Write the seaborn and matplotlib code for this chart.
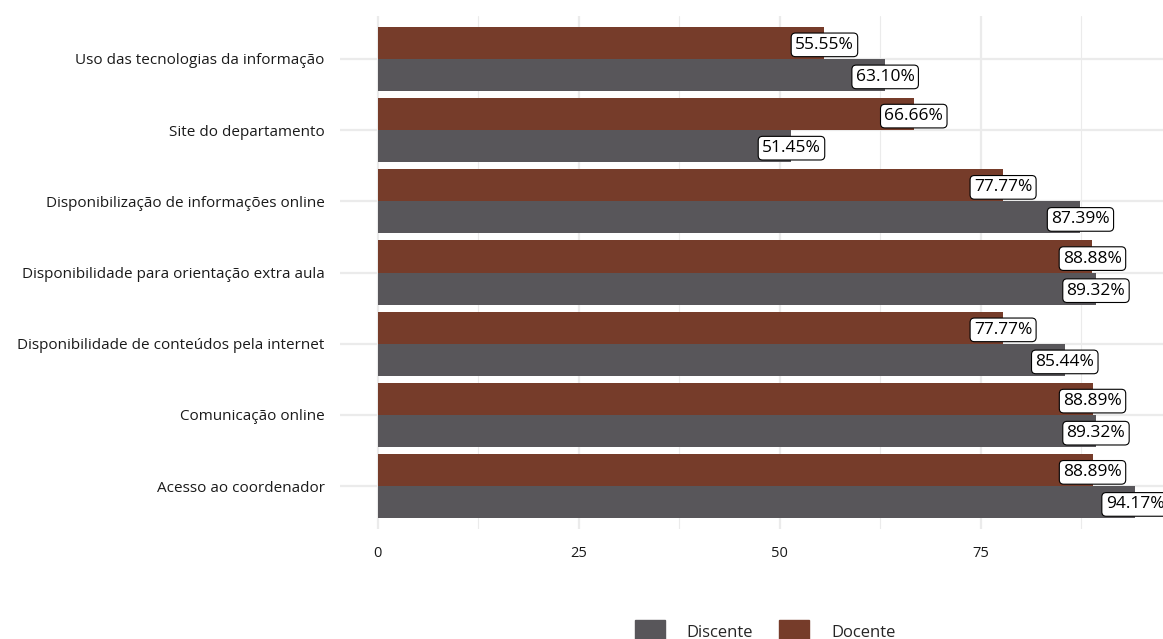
import matplotlib
matplotlib.use("Agg")
import matplotlib.pyplot as plt
import seaborn as sns
import pandas as pd
from matplotlib.patches import Patch

categorias = [
    "Uso das tecnologias da informação",
    "Site do departamento",
    "Disponibilização de informações online",
    "Disponibilidade para orientação extra aula",
    "Disponibilidade de conteúdos pela internet",
    "Comunicação online",
    "Acesso ao coordenador",
]
docente = [55.55, 66.66, 77.77, 88.88, 77.77, 88.89, 88.89]
discente = [63.10, 51.45, 87.39, 89.32, 85.44, 89.32, 94.17]
grupos = ["Docente", "Discente"]
cores = {"Docente": "#763C2A", "Discente": "#58565A"}

df = pd.DataFrame({
    "categoria": categorias * 2,
    "grupo": ["Docente"] * len(categorias) + ["Discente"] * len(categorias),
    "valor": docente + discente,
})

sns.set_theme(style="whitegrid")
plt.rcParams["font.family"] = ["Open Sans", "DejaVu Sans"]

fig = plt.figure(figsize=(11.63, 6.39), dpi=100)
ax = fig.add_axes([340 / 1163, 1 - 529 / 639, (1173 - 340) / 1163, (529 - 16) / 639])

sns.barplot(data=df, y="categoria", x="valor", hue="grupo", hue_order=grupos,
            order=categorias, palette=cores, width=0.9, orient="h",
            saturation=1, ax=ax, legend=False, edgecolor="none", linewidth=0)

for cont, g in zip(ax.containers, grupos):
    for bar in cont:
        v = bar.get_width()
        ax.text(v, bar.get_y() + bar.get_height() / 2 + 0.03, f"{v:.2f}%",
                ha="center", va="center", fontsize=12.5, color="black",
                bbox=dict(boxstyle="round,pad=0.22,rounding_size=0.25",
                          fc="white", ec="black", lw=0.8))

ax.set_xlim(-4.7, 98.9)
ax.set_ylim(len(categorias) - 1 + 0.6, -0.6)
ax.set_xticks([0, 25, 50, 75])
ax.set_xticks([12.5, 37.5, 62.5, 87.5], minor=True)
ax.grid(True, which="major", axis="both", color="#EBEBEB", lw=1.6)
ax.grid(True, which="minor", axis="x", color="#EBEBEB", lw=0.8)
ax.set_axisbelow(True)
for s in ax.spines.values():
    s.set_visible(False)
ax.set_xlabel("")
ax.set_ylabel("")
ax.tick_params(axis="x", labelsize=10.5, colors="#1a1a1a", pad=12, length=0)
ax.tick_params(axis="y", labelsize=11, colors="#1a1a1a", pad=11, length=0)

handles = [Patch(color=cores["Discente"], label="Discente"),
           Patch(color=cores["Docente"], label="Docente")]
fig.legend(handles=handles, loc="lower center", bbox_to_anchor=(765 / 1163, -0.03),
           ncol=2, frameon=False, fontsize=12, handlelength=1.8, handleheight=1.8,
           columnspacing=1.6, handletextpad=1.3)

fig.savefig("out.png", dpi=100, facecolor="white")
